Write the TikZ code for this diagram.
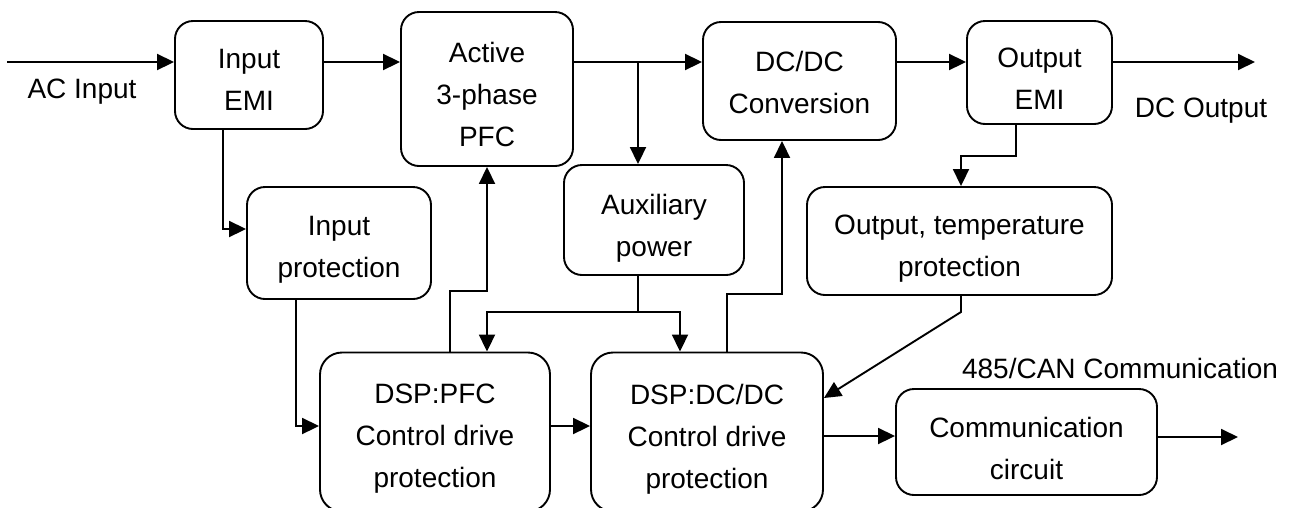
\documentclass[tikz,border=0pt]{standalone}
\usepackage{fontspec}
\setmainfont{Liberation Sans}
\usetikzlibrary{arrows.meta}
\begin{document}
\begin{tikzpicture}[x=1pt,y=-1pt,
  blk/.style={draw,line width=1.9pt,rounded corners=18pt,inner sep=0pt},
  txt/.style={align=center,inner sep=0pt,font={\fontsize{28}{42}\selectfont}},
  lbl/.style={inner sep=0pt,font={\fontsize{28}{42}\selectfont}},
  conn/.style={line width=1.9pt},
  arr/.style={line width=1.9pt,-{Triangle[length=17pt,width=16pt]}}]
\useasboundingbox (0,0) rectangle (1293,507);
% boxes
\node[blk,minimum width=148pt,minimum height=108pt] (inemi) at (249,75) {};
\node[blk,minimum width=172pt,minimum height=154pt] (pfc) at (487,89) {};
\node[blk,minimum width=193pt,minimum height=118pt] (dcdc) at (799.5,81) {};
\node[blk,minimum width=145pt,minimum height=103pt] (outemi) at (1039.5,72.5) {};
\node[blk,minimum width=184pt,minimum height=112pt] (inprot) at (339,243) {};
\node[blk,minimum width=180pt,minimum height=110pt] (aux) at (654,220) {};
\node[blk,minimum width=305pt,minimum height=108pt] (outprot) at (959.5,241) {};
\node[blk,rounded corners=22pt,minimum width=230pt,minimum height=159pt] (dsppfc) at (435,432) {};
\node[blk,rounded corners=22pt,minimum width=232pt,minimum height=159pt] (dspdc) at (707,432) {};
\node[blk,minimum width=261pt,minimum height=106pt] (comm) at (1026.5,442) {};
% box texts
\node[txt] (inemi-t) at ([yshift=-5pt]inemi.center) {Input\\EMI};
\node[txt] (pfc-t) at ([yshift=-5pt]pfc.center) {Active\\3-phase\\PFC};
\node[txt] (dcdc-t) at ([yshift=-1pt]dcdc.center) {DC/DC\\Conversion};
\node[txt] (outemi-t) at ([yshift=-6pt]outemi.center) {Output\\EMI};
\node[txt] (inprot-t) at ([yshift=-7pt]inprot.center) {Input\\protection};
\node[txt] (aux-t) at ([yshift=-8pt]aux.center) {Auxiliary\\power};
\node[txt] (outprot-t) at ([yshift=-8pt]outprot.center) {Output, temperature\\protection};
\node[txt] (dsppfc-t) at ([yshift=-7pt]dsppfc.center) {DSP:PFC\\Control drive\\protection};
\node[txt] (dspdc-t) at ([yshift=-7pt]dspdc.center) {DSP:DC/DC\\Control drive\\protection};
\node[txt] (comm-t) at ([yshift=-6pt]comm.center) {Communication\\circuit};
% labels
\node[lbl,anchor=base] (aclbl) at (82,98) {AC Input};
\node[lbl,anchor=base] (dclbl) at (1201,117) {DC Output};
\node[lbl,anchor=base] (canlbl) at (1120,378) {485/CAN Communication};
% coordinates
\coordinate (acin) at (7,62);
\coordinate (dcout) at (1255,62);
\coordinate (br) at (638,62);
\coordinate (commout) at (1238,437);
% main chain
\draw[arr] (acin) -- (acin -| inemi.west);
\draw[arr] (inemi.east |- acin) -- (pfc.west |- acin);
\draw[arr] (pfc.east |- acin) -- (dcdc.west |- acin);
\draw[arr] (br) -- (br |- aux.north);
\draw[arr] (dcdc.east |- acin) -- (outemi.west |- acin);
\draw[arr] (outemi.east |- acin) -- (dcout);
% input protection
\draw[arr] (inemi.south -| 223,0) -- (223,229) -- (inprot.west |- 0,229);
\draw[arr] (inprot.south -| 296,0) -- (296,426) -- (dsppfc.west |- 0,426);
% DSP PFC to Active
\draw[arr] (dsppfc.north -| 450,0) -- (450,291) -- (487,291) -- (pfc.south);
% auxiliary power
\draw[conn] (aux.south -| br) -- (638,312);
\draw[arr] (638,312) -- (487,312) -- (dsppfc.north -| 487,0);
\draw[arr] (638,312) -- (680,312) -- (dspdc.north -| 680,0);
% DSP DC to DC/DC
\draw[arr] (dspdc.north -| 727,0) -- (727,294) -- (782,294) -- (dcdc.south -| 782,0);
% output EMI to output protection
\draw[arr] (outemi.south -| 1016,0) -- (1016,156) -- (961,156) -- (outprot.north -| 961,0);
\draw[arr] (outprot.south -| 961,0) -- (961,312) -- (dspdc.east |- 0,398);
% bottom chain
\draw[arr] (dsppfc.east |- 0,426) -- (dspdc.west |- 0,426);
\draw[arr] (dspdc.east |- 0,436) -- (comm.west |- 0,436);
\draw[arr] (comm.east |- commout) -- (commout);
\end{tikzpicture}
\end{document}
